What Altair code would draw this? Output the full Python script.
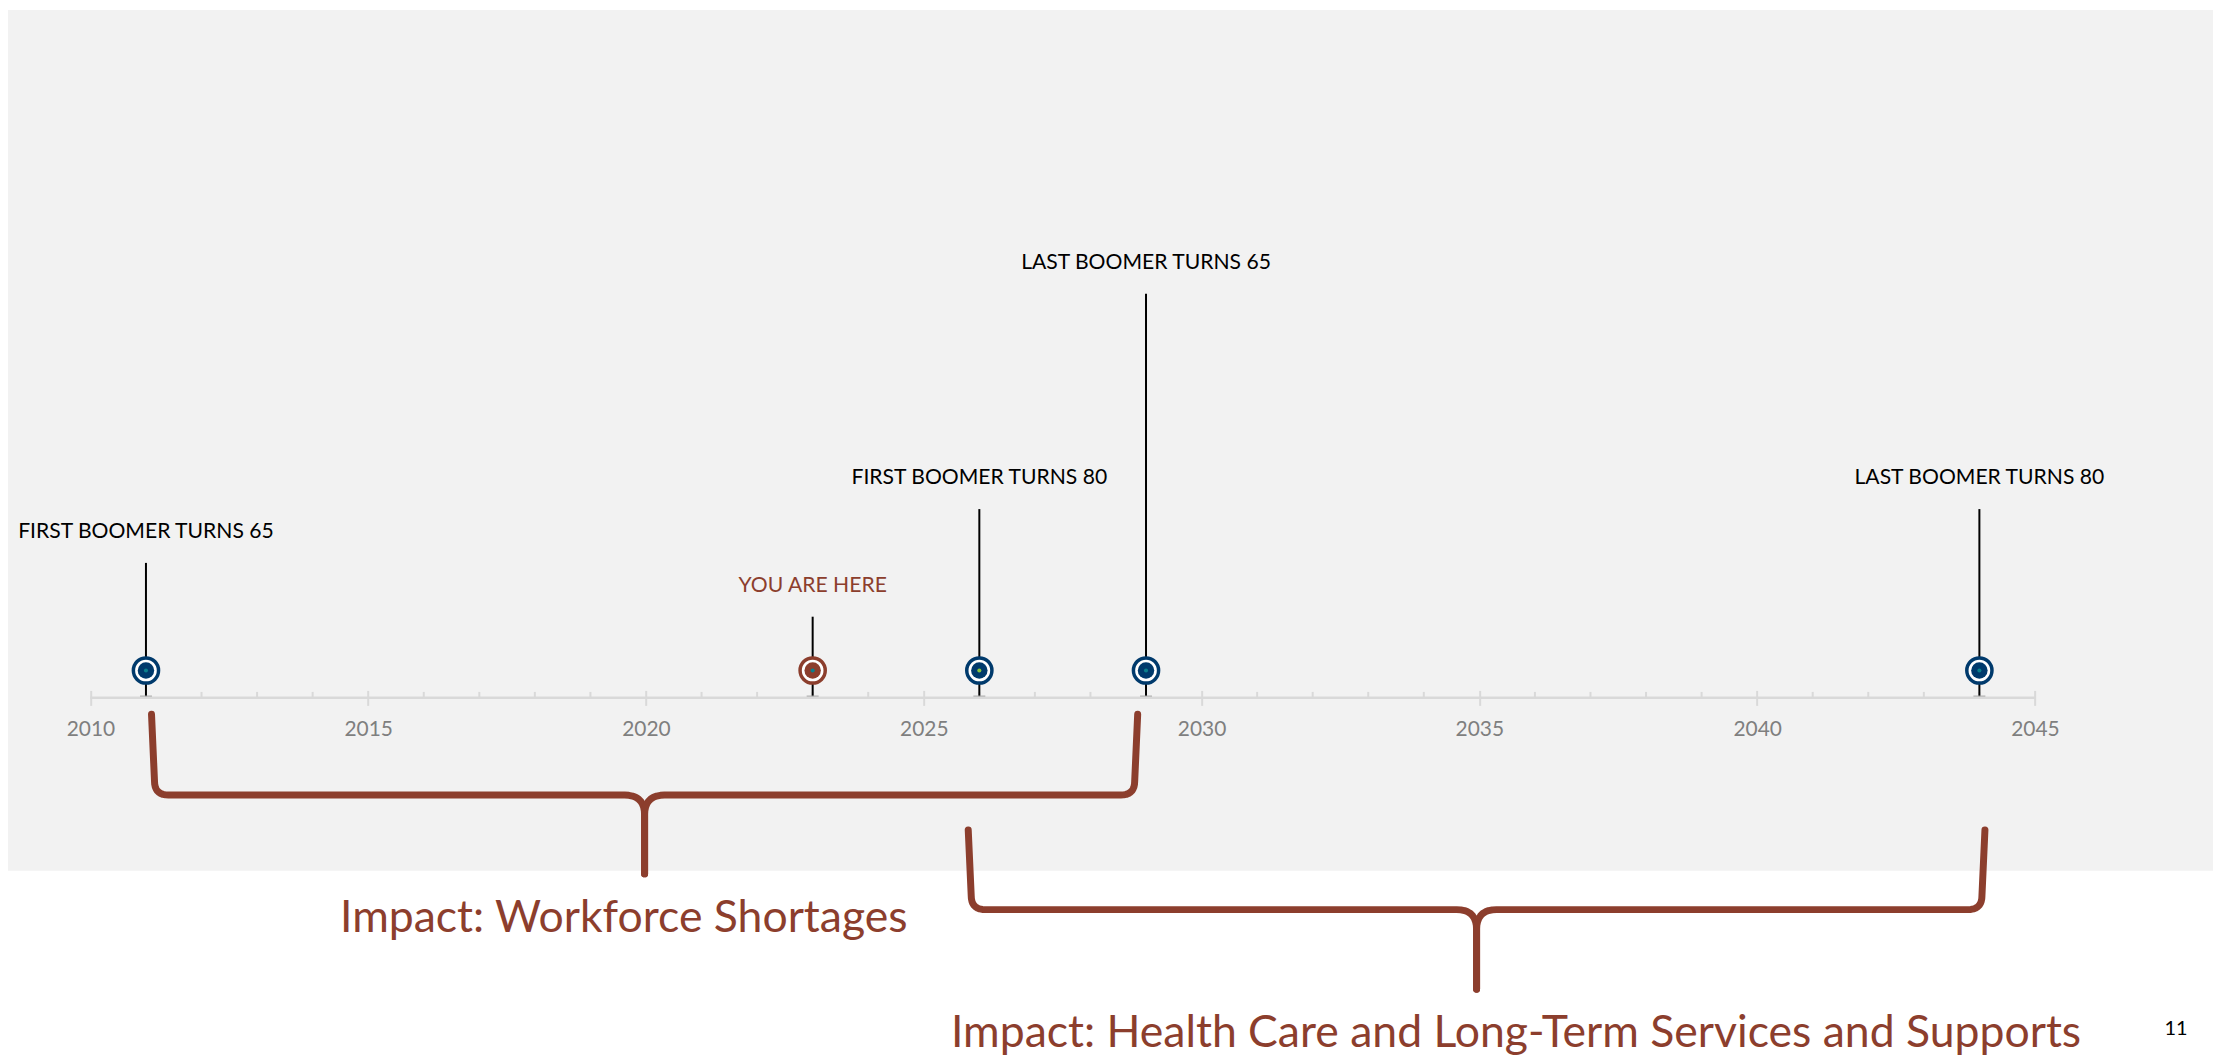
import altair as alt
import pandas as pd
import numpy as np

# ---------------- data ----------------
event_years = [2011, 2023, 2026, 2029, 2044]
event_labels = ["FIRST BOOMER TURNS 65", "YOU ARE HERE", "FIRST BOOMER TURNS 80",
                "LAST BOOMER TURNS 65", "LAST BOOMER TURNS 80"]
stem_heights = [2, 1, 3, 7, 3]
event_kind = ["milestone", "now", "milestone", "milestone", "milestone"]
dot_kind = ["teal", "teal", "green", "teal", "teal"]

tick_years = list(range(2010, 2046, 5))
minor_years = [y for y in range(2011, 2045) if y % 5 != 0]
axis_start, axis_end = 2010, 2045

brace_start = [2011.1, 2025.8]
brace_end = [2028.85, 2044.1]
brace_top = [-0.815, -2.963]
brace_bar = [-2.315, -4.444]
brace_tip = [-3.78, -5.926]

impact_text = ["Impact: Workforce Shortages",
               "Impact: Health Care and Long-Term Services and Supports"]
impact_x = [2019.6, 2035.66]
impact_y = [-4.852, -7.0]

page_number = ["11"]
page_x = [2047.54]
page_y = [-6.77]

bg_bottom = -3.72
axis_level = -0.506
minor_top = -0.398
stem_bottom = -0.476

# ---------------- layout ----------------
W, H = 2205, 683
PX_YEAR, PX_LEVEL = 55.76, 54.0
x0 = 2010 - 82.7 / PX_YEAR
x_dom = [x0, x0 + W / PX_YEAR]
y_dom = [(663 - H) / PX_LEVEL, 663 / PX_LEVEL]
xs = alt.Scale(domain=x_dom, nice=False, zero=False)
ys = alt.Scale(domain=y_dom, nice=False, zero=False)

FONT = "Lato"
BROWN = "#8c3e2d"
NAVY = "#003a6c"

events = pd.DataFrame({"year": event_years, "label": event_labels,
                       "top": stem_heights, "kind": event_kind, "dot": dot_kind})
events["zero"] = 0
events["bottom"] = stem_bottom

# brace outlines built from the brace spans
def quad(p0, c, p1, n=10):
    t = np.linspace(0, 1, n)[1:]
    return [((1 - s) ** 2 * p0[0] + 2 * (1 - s) * s * c[0] + s ** 2 * p1[0],
             (1 - s) ** 2 * p0[1] + 2 * (1 - s) * s * c[1] + s ** 2 * p1[1]) for s in t]

rows = []
for b in range(len(brace_start)):
    xc = (brace_start[b] + brace_end[b]) / 2
    for side, xa in (("L", brace_start[b]), ("R", brace_end[b])):
        d = 1 if xc > xa else -1
        rcx, rcy = 14 / PX_YEAR, 14 / PX_LEVEL
        rmx, rmy = 20 / PX_YEAR, 20 / PX_LEVEL
        top, bar, tip = brace_top[b], brace_bar[b], brace_tip[b]
        pts = [(xa, top), (xa + d * 3 / PX_YEAR, bar + rcy)]
        pts += quad(pts[-1], (xa + d * 3 / PX_YEAR, bar), (xa + d * (3 / PX_YEAR + rcx), bar))
        pts.append((xc - d * rmx, bar))
        pts += quad(pts[-1], (xc, bar), (xc, bar - rmy))
        pts.append((xc, tip))
        for i, (px, py) in enumerate(pts):
            rows.append({"id": f"{b}{side}", "i": i, "x": px, "y": py})
braces = pd.DataFrame(rows)

X = lambda f: alt.X(f, type="quantitative", scale=xs, title=None,
                    axis=alt.Axis(values=tick_years, format="d", domain=False, grid=False,
                                  tickColor="#d9d9d9", tickWidth=2, tickSize=15,
                                  labelColor="#7f7f7f", labelFont=FONT, labelFontSize=21,
                                  labelPadding=13, zindex=1))
Y = lambda f: alt.Y(f, type="quantitative", scale=ys, axis=None, title=None)

bg = alt.Chart(pd.DataFrame({"t": [y_dom[1]], "b": [bg_bottom]})).mark_rect(color="#f2f2f2").encode(
    x=alt.value(0), x2=alt.value(W + 8), y=Y("t"), y2="b")

axis_line = alt.Chart(pd.DataFrame({"a": [axis_start], "b": [axis_end], "y": [axis_level]})).mark_rule(
    color="#d9d9d9", strokeWidth=2.5).encode(x=X("a"), x2="b", y=Y("y"))

minor = alt.Chart(pd.DataFrame({"x": minor_years, "t": minor_top, "b": axis_level})).mark_rule(
    color="#d9d9d9", strokeWidth=2).encode(x=X("x"), y=Y("t"), y2="b")

brace_lines = alt.Chart(braces).mark_line(color=BROWN, strokeWidth=7, strokeCap="round",
                                          strokeJoin="round").encode(
    x=X("x"), y=Y("y"), detail="id:N", order="i:Q")

stems = alt.Chart(events).mark_rule(color="#000000", strokeWidth=2).encode(
    x=X("year"), y=Y("top"), y2="bottom")

caps = alt.Chart(events).mark_tick(orient="horizontal", color="#a6a6a6", size=12,
                                   thickness=1.5).encode(x=X("year"), y=Y("bottom"))

ring_scale = alt.Scale(domain=["milestone", "now"], range=[NAVY, BROWN])
rings = alt.Chart(events).mark_circle(size=638, fill="#ffffff", strokeWidth=3.5, opacity=1).encode(
    x=X("year"), y=Y("zero"), stroke=alt.Stroke("kind:N", scale=ring_scale, legend=None))
inner = alt.Chart(events).mark_circle(size=272, opacity=1).encode(
    x=X("year"), y=Y("zero"), fill=alt.Fill("kind:N", scale=ring_scale, legend=None))
dots = alt.Chart(events).mark_circle(size=17, opacity=1).encode(
    x=X("year"), y=Y("zero"),
    color=alt.Color("dot:N", scale=alt.Scale(domain=["teal", "green"], range=["#0a7f8c", "#86c440"]),
                    legend=None))

labels = alt.Chart(events).mark_text(font=FONT, fontSize=21.2, baseline="middle", dy=-31).encode(
    x=X("year"), y=Y("top"), text="label:N",
    color=alt.Color("kind:N", scale=alt.Scale(domain=["milestone", "now"], range=["#000000", BROWN]),
                    legend=None))

impacts = alt.Chart(pd.DataFrame({"t": impact_text, "x": impact_x, "y": impact_y})).mark_text(
    font=FONT, fontSize=44.7, color=BROWN, baseline="alphabetic").encode(
    x=X("x"), y=Y("y"), text="t:N")

pnum = alt.Chart(pd.DataFrame({"t": page_number, "x": page_x, "y": page_y})).mark_text(
    font=FONT, fontSize=20, color="#000000", baseline="alphabetic").encode(
    x=X("x"), y=Y("y"), text="t:N")

chart = alt.layer(bg, axis_line, minor, brace_lines, stems, caps, rings, inner, dots,
                  labels, impacts, pnum).resolve_scale(
    color="independent", fill="independent", stroke="independent").properties(
    width=W, height=H,
    autosize=alt.AutoSizeParams(type="none"),
    padding={"left": 0, "top": 0, "right": 8, "bottom": 369},
    background="#ffffff",
).configure_view(stroke=None)

chart.save("out.html", embed_options={"renderer": "svg", "actions": False})
